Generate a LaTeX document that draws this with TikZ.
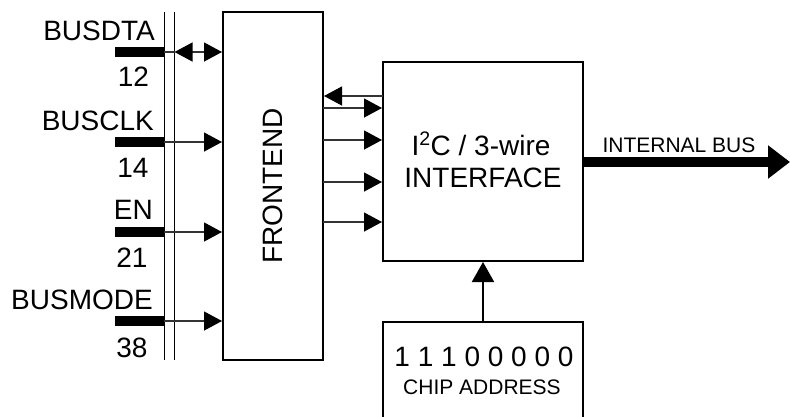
\documentclass[tikz,border=0pt]{standalone}
\usepackage{fontspec}
\setmainfont{Liberation Sans}
\usetikzlibrary{arrows.meta}
\tikzset{
 big/.style={font=\fontsize{28}{32}\selectfont, inner sep=0pt},
 small/.style={font=\fontsize{21}{24}\selectfont, inner sep=0pt},
 blk/.style={draw, line width=2pt, inner sep=0pt},
 sig/.style={line width=1.2pt, black!80},
 tip/.style={-{Triangle[length=18pt,width=19pt,black]}},
 dtip/.style={{Triangle[length=18pt,width=19pt,black]}-{Triangle[length=18pt,width=19pt,black]}},
 stub/.style={line width=10pt},
 busline/.style={line width=1pt},
}
\begin{document}
\begin{tikzpicture}[x=1pt,y=-1pt]
\useasboundingbox (0,0) rectangle (790,416);
\clip (0,0) rectangle (790,416);
\fill[white] (0,0) rectangle (790,416);
% blocks
\node[blk, minimum width=100pt, minimum height=348pt] (fe) at (273,186) {};
\node[big, rotate=90] (fet) at (273,186) {FRONTEND};
\node[blk, minimum width=200pt, minimum height=199pt] (ifc) at (483,161.5) {};
\node[big, anchor=base] (i1) at (481,155) {I\textsuperscript{2}C / 3-wire};
\node[big, anchor=base] (i2) at (483,187) {INTERFACE};
\node[blk, minimum width=200pt, minimum height=130pt, anchor=north] (chip) at (483,321) {};
\node[big, anchor=base] (addr) at (484,366) {1 1 1 0 0 0 0 0};
\node[small, anchor=base] (addrl) at (482,394) {CHIP ADDRESS};
% bus lines
\coordinate (bt1) at (164.5,12); \coordinate (bb1) at (164.5,360);
\coordinate (bt2) at (174.5,12); \coordinate (bb2) at (174.5,360);
\draw[busline] (bt1) -- (bb1);
\draw[busline] (bt2) -- (bb2);
% stubs
\foreach \n/\yy in {1/52,2/142,3/232,4/321}{
  \coordinate (sa\n) at (115,\yy);
  \coordinate (sb\n) at (164,\yy);
  \draw[stub] (sa\n) -- (sb\n);
}
% labels
\node[big, anchor=base east] (l1) at (155,40.7) {BUSDTA};
\node[big, anchor=base] (n1) at (133.5,86) {12};
\node[big, anchor=base east] (l2) at (154,130) {BUSCLK};
\node[big, anchor=base] (n2) at (133,177) {14};
\node[big, anchor=base east] (l3) at (153,219) {EN};
\node[big, anchor=base] (n3) at (132,267) {21};
\node[big, anchor=base east] (l4) at (153,309) {BUSMODE};
\node[big, anchor=base] (n4) at (132,357) {38};
% signals into frontend
\coordinate (b1) at (174.5,52);
\draw[sig] (sb1) -- (b1);
\draw[sig, dtip] (b1) -- (b1 -| fe.west);
\draw[sig, tip] (sb2) -- (sb2 -| fe.west);
\draw[sig, tip] (sb3) -- (sb3 -| fe.west);
\draw[sig, tip] (sb4) -- (sb4 -| fe.west);
% frontend <-> interface
\coordinate (r0) at (383,96);
\draw[sig, tip] (r0) -- (r0 -| fe.east);
\foreach \n/\yy in {1/108,2/140,3/182,4/222}{
  \coordinate (f\n) at (323,\yy);
  \draw[sig, tip] (f\n) -- (f\n -| ifc.west);
}
% internal bus
\coordinate (ib) at (790,162);
\draw[line width=10pt, -{Triangle[length=22pt,width=32pt]}] (ifc.east |- ib) -- (ib);
\node[small, anchor=base] (ibl) at (679,152) {INTERNAL BUS};
% chip address to interface
\draw[line width=2pt, -{Triangle[length=20pt,width=22pt]}] (chip.north) -- (ifc.south);
\end{tikzpicture}
\end{document}
